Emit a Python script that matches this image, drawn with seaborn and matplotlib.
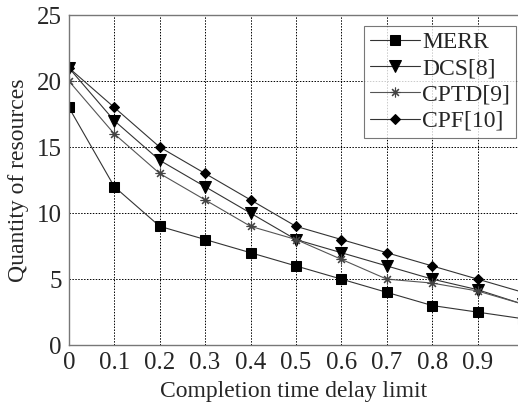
import matplotlib
matplotlib.use('Agg')
import matplotlib.pyplot as plt
import seaborn as sns
import pandas as pd

# values
delay = [0, 0.1, 0.2, 0.3, 0.4, 0.5, 0.6, 0.7, 0.8, 0.9, 1.0]
merr = [18, 12, 9, 8, 7, 6, 5, 4, 3, 2.5, 2]
dcs = [21, 17, 14, 12, 10, 8, 7, 6, 5, 4.2, 3.1]
cptd = [20, 16, 13, 11, 9, 8, 6.5, 5, 4.7, 4.1, 3.1]
cpf = [21, 18, 15, 13, 11, 9, 8, 7, 6, 5, 4]

series = [('MERR', merr, 's', 6.5), ('DCS[8]', dcs, 'v', 8),
          ('CPTD[9]', cptd, (8, 2, 0), 7), ('CPF[10]', cpf, 'D', 5.5)]

sns.set_style('white')
plt.rcParams['font.family'] = ['Liberation Serif', 'DejaVu Serif']

fig = plt.figure(figsize=(5.18, 4.07), dpi=100)
ax = fig.add_axes([0.133, 0.152, 0.867, 0.811])

for name, vals, mk, ms in series:
    df = pd.DataFrame({'x': delay, 'y': vals})
    if name.startswith('CPTD'):
        sns.lineplot(data=df, x='x', y='y', ax=ax, color='#555555', lw=0.8,
                     marker=mk, markersize=ms, markeredgecolor='#444444',
                     markeredgewidth=0.8, label=name)
    else:
        sns.lineplot(data=df, x='x', y='y', ax=ax, color='#333333', lw=0.8,
                     marker=mk, markersize=ms, markerfacecolor='black',
                     markeredgecolor='black', label=name)

ax.set_xlim(0, 0.989)
ax.set_ylim(0, 25)
ax.set_xticks([0, 0.1, 0.2, 0.3, 0.4, 0.5, 0.6, 0.7, 0.8, 0.9])
ax.set_xticklabels(['0', '0.1', '0.2', '0.3', '0.4', '0.5', '0.6', '0.7', '0.8', '0.9'])
ax.set_yticks([0, 5, 10, 15, 20, 25])
ax.tick_params(labelsize=18, direction='in', length=0, pad=5)
ax.grid(True, color='black', linestyle=(0, (1.5, 1.5)), linewidth=0.7)
for s in ['left', 'bottom', 'top']:
    ax.spines[s].set_color('#777777')
    ax.spines[s].set_linewidth(1.0)
ax.spines['right'].set_visible(False)

ax.set_xlabel('Completion time delay limit', fontsize=17, labelpad=5)
ax.set_ylabel('Quantity of resources', fontsize=17, labelpad=6)

leg = ax.legend(loc='upper right', bbox_to_anchor=(1.0, 0.975), fontsize=17,
                frameon=True, fancybox=False, edgecolor='#555555',
                handlelength=2.1, handletextpad=0.1, borderpad=0.25,
                labelspacing=0.2, borderaxespad=0.1)
leg.get_frame().set_linewidth(0.8)

fig.savefig('out.png', dpi=100)
